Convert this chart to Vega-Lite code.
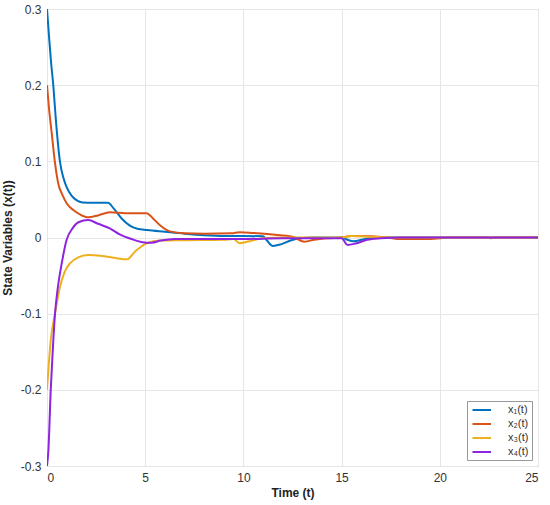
{
  "$schema": "https://vega.github.io/schema/vega-lite/v6.json",
  "autosize": "none",
  "width": 491,
  "height": 457,
  "padding": {"left": 47, "top": 9, "right": 12, "bottom": 39},
  "background": "white",
  "config": {
    "font": "Liberation Sans",
    "view": {"stroke": "#8c8c8c", "strokeWidth": 1}
  },
  "data": {"values": [
    {"t":0,"v":0.3,"s":"x₁(t)"},{"t":0.1,"v":0.265,"s":"x₁(t)"},{"t":0.2,"v":0.232,"s":"x₁(t)"},{"t":0.32,"v":0.2,"s":"x₁(t)"},{"t":0.45,"v":0.155,"s":"x₁(t)"},{"t":0.66,"v":0.0995,"s":"x₁(t)"},{"t":0.85,"v":0.077,"s":"x₁(t)"},{"t":1.0,"v":0.066,"s":"x₁(t)"},{"t":1.25,"v":0.055,"s":"x₁(t)"},{"t":1.5,"v":0.049,"s":"x₁(t)"},{"t":1.8,"v":0.046,"s":"x₁(t)"},{"t":2.4,"v":0.0455,"s":"x₁(t)"},{"t":3.1,"v":0.0455,"s":"x₁(t)"},{"t":3.4,"v":0.038,"s":"x₁(t)"},{"t":3.8,"v":0.025,"s":"x₁(t)"},{"t":4.2,"v":0.016,"s":"x₁(t)"},{"t":4.6,"v":0.0115,"s":"x₁(t)"},{"t":5.1,"v":0.0098,"s":"x₁(t)"},{"t":6,"v":0.0075,"s":"x₁(t)"},{"t":7,"v":0.005,"s":"x₁(t)"},{"t":8,"v":0.003,"s":"x₁(t)"},{"t":9,"v":0.002,"s":"x₁(t)"},{"t":10,"v":0.002,"s":"x₁(t)"},{"t":11,"v":0.0015,"s":"x₁(t)"},{"t":11.2,"v":-0.004,"s":"x₁(t)"},{"t":11.5,"v":-0.011,"s":"x₁(t)"},{"t":11.9,"v":-0.009,"s":"x₁(t)"},{"t":12.4,"v":-0.004,"s":"x₁(t)"},{"t":12.9,"v":-0.001,"s":"x₁(t)"},{"t":13.5,"v":0,"s":"x₁(t)"},{"t":15,"v":0,"s":"x₁(t)"},{"t":15.3,"v":-0.003,"s":"x₁(t)"},{"t":15.6,"v":-0.005,"s":"x₁(t)"},{"t":16.2,"v":-0.002,"s":"x₁(t)"},{"t":17,"v":0,"s":"x₁(t)"},{"t":22.4,"v":0,"s":"x₁(t)"},{"t":22.6,"v":-0.001,"s":"x₁(t)"},{"t":22.8,"v":0,"s":"x₁(t)"},{"t":25,"v":0,"s":"x₁(t)"},
    {"t":0,"v":0.2,"s":"x₂(t)"},{"t":0.1,"v":0.17,"s":"x₂(t)"},{"t":0.24,"v":0.137,"s":"x₂(t)"},{"t":0.41,"v":0.0974,"s":"x₂(t)"},{"t":0.6,"v":0.068,"s":"x₂(t)"},{"t":0.75,"v":0.058,"s":"x₂(t)"},{"t":1.0,"v":0.045,"s":"x₂(t)"},{"t":1.34,"v":0.036,"s":"x₂(t)"},{"t":1.7,"v":0.03,"s":"x₂(t)"},{"t":2.1,"v":0.0265,"s":"x₂(t)"},{"t":2.6,"v":0.029,"s":"x₂(t)"},{"t":3.2,"v":0.033,"s":"x₂(t)"},{"t":4.0,"v":0.032,"s":"x₂(t)"},{"t":5.07,"v":0.032,"s":"x₂(t)"},{"t":5.4,"v":0.025,"s":"x₂(t)"},{"t":5.8,"v":0.015,"s":"x₂(t)"},{"t":6.26,"v":0.008,"s":"x₂(t)"},{"t":7,"v":0.0055,"s":"x₂(t)"},{"t":8,"v":0.005,"s":"x₂(t)"},{"t":9.4,"v":0.0055,"s":"x₂(t)"},{"t":9.8,"v":0.007,"s":"x₂(t)"},{"t":10.5,"v":0.006,"s":"x₂(t)"},{"t":11.5,"v":0.004,"s":"x₂(t)"},{"t":12.5,"v":0.001,"s":"x₂(t)"},{"t":13.1,"v":-0.0055,"s":"x₂(t)"},{"t":13.6,"v":-0.003,"s":"x₂(t)"},{"t":14.2,"v":-0.001,"s":"x₂(t)"},{"t":15,"v":0,"s":"x₂(t)"},{"t":15.5,"v":0.002,"s":"x₂(t)"},{"t":16.5,"v":0.0015,"s":"x₂(t)"},{"t":17.3,"v":0,"s":"x₂(t)"},{"t":18,"v":-0.002,"s":"x₂(t)"},{"t":19.5,"v":-0.002,"s":"x₂(t)"},{"t":20.5,"v":0,"s":"x₂(t)"},{"t":25,"v":0,"s":"x₂(t)"},
    {"t":0,"v":-0.2,"s":"x₃(t)"},{"t":0.19,"v":-0.135,"s":"x₃(t)"},{"t":0.41,"v":-0.0995,"s":"x₃(t)"},{"t":0.66,"v":-0.065,"s":"x₃(t)"},{"t":0.9,"v":-0.045,"s":"x₃(t)"},{"t":1.17,"v":-0.034,"s":"x₃(t)"},{"t":1.6,"v":-0.026,"s":"x₃(t)"},{"t":2.1,"v":-0.023,"s":"x₃(t)"},{"t":3,"v":-0.025,"s":"x₃(t)"},{"t":4.06,"v":-0.0287,"s":"x₃(t)"},{"t":4.5,"v":-0.018,"s":"x₃(t)"},{"t":5.07,"v":-0.0077,"s":"x₃(t)"},{"t":5.75,"v":-0.004,"s":"x₃(t)"},{"t":7,"v":-0.0035,"s":"x₃(t)"},{"t":9,"v":-0.003,"s":"x₃(t)"},{"t":9.5,"v":-0.002,"s":"x₃(t)"},{"t":9.8,"v":-0.0076,"s":"x₃(t)"},{"t":10.3,"v":-0.005,"s":"x₃(t)"},{"t":11,"v":-0.001,"s":"x₃(t)"},{"t":12,"v":0,"s":"x₃(t)"},{"t":15,"v":0,"s":"x₃(t)"},{"t":15.5,"v":0.002,"s":"x₃(t)"},{"t":16.5,"v":0.001,"s":"x₃(t)"},{"t":17.5,"v":0,"s":"x₃(t)"},{"t":25,"v":0,"s":"x₃(t)"},
    {"t":0,"v":-0.3,"s":"x₄(t)"},{"t":0.07,"v":-0.28,"s":"x₄(t)"},{"t":0.19,"v":-0.2,"s":"x₄(t)"},{"t":0.3,"v":-0.145,"s":"x₄(t)"},{"t":0.41,"v":-0.0995,"s":"x₄(t)"},{"t":0.55,"v":-0.066,"s":"x₄(t)"},{"t":0.75,"v":-0.034,"s":"x₄(t)"},{"t":1.0,"v":-0.003,"s":"x₄(t)"},{"t":1.3,"v":0.012,"s":"x₄(t)"},{"t":1.6,"v":0.02,"s":"x₄(t)"},{"t":2.1,"v":0.023,"s":"x₄(t)"},{"t":2.6,"v":0.018,"s":"x₄(t)"},{"t":3.2,"v":0.012,"s":"x₄(t)"},{"t":3.7,"v":0.004,"s":"x₄(t)"},{"t":4.3,"v":-0.002,"s":"x₄(t)"},{"t":5.07,"v":-0.0068,"s":"x₄(t)"},{"t":5.33,"v":-0.0068,"s":"x₄(t)"},{"t":5.8,"v":-0.004,"s":"x₄(t)"},{"t":6.5,"v":-0.002,"s":"x₄(t)"},{"t":8,"v":-0.002,"s":"x₄(t)"},{"t":10,"v":-0.002,"s":"x₄(t)"},{"t":12,"v":-0.001,"s":"x₄(t)"},{"t":15,"v":-0.001,"s":"x₄(t)"},{"t":15.3,"v":-0.0098,"s":"x₄(t)"},{"t":15.7,"v":-0.008,"s":"x₄(t)"},{"t":16.3,"v":-0.003,"s":"x₄(t)"},{"t":17,"v":-0.001,"s":"x₄(t)"},{"t":18,"v":0,"s":"x₄(t)"},{"t":25,"v":0,"s":"x₄(t)"}
  ]},
  "mark": {"type": "line", "interpolate": "monotone", "strokeWidth": 2, "clip": true},
  "encoding": {
    "x": {"field": "t", "type": "quantitative",
      "scale": {"domain": [0, 25], "nice": false},
      "axis": {"title": "Time (t)", "values": [0, 5, 10, 15, 20, 25], "grid": true, "gridColor": "#e6e6e6",
        "domain": false, "tickSize": 0, "labelPadding": 6, "labelFontSize": 12, "labelColor": "#333",
        "titleFontSize": 12, "titleFontWeight": "bold", "titleColor": "#222", "titlePadding": 4}},
    "y": {"field": "v", "type": "quantitative",
      "scale": {"domain": [-0.3, 0.3], "nice": false, "zero": false},
      "axis": {"title": "State Variables (x(t))", "values": [-0.3, -0.2, -0.1, 0, 0.1, 0.2, 0.3], "grid": true, "gridColor": "#e6e6e6",
        "domain": false, "tickSize": 0, "labelPadding": 6, "labelFontSize": 12, "labelColor": "#333",
        "labelExpr": "datum.value == 0 ? '0' : replace(format(datum.value, '.1f'), '−', '-')",
        "titleFontSize": 12, "titleFontWeight": "bold", "titleColor": "#222", "titlePadding": 6}},
    "color": {"field": "s", "type": "nominal",
      "scale": {"domain": ["x₁(t)", "x₂(t)", "x₃(t)", "x₄(t)"], "range": ["#0072BD", "#D95319", "#EDB120", "#8E24E0"]},
      "legend": {"title": null, "orient": "bottom-right", "offset": 6, "symbolType": "M-0.7,0L3.0,0", "symbolSize": 100,
        "symbolStrokeWidth": 2, "labelFontSize": 11, "labelColor": "#333", "fillColor": "white", "strokeColor": "#999",
        "padding": 3, "rowPadding": 3, "labelOffset": 26}}
  }
}
